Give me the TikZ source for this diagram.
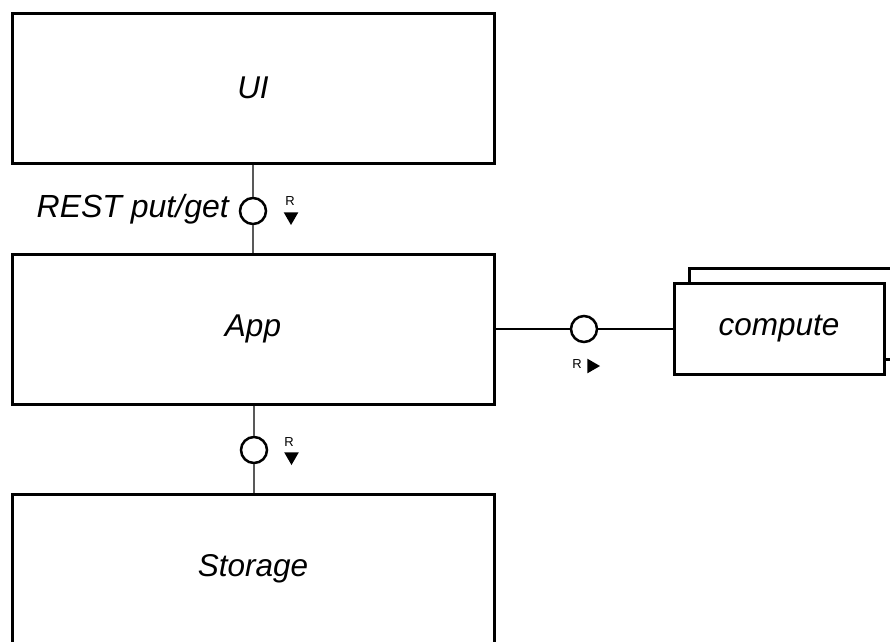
\documentclass[tikz,border=0pt]{standalone}
\usepackage{fontspec}
\setmainfont{Liberation Sans}
\usetikzlibrary{shapes.geometric}
\begin{document}
\begin{tikzpicture}[x=1pt,y=-1pt,
  box/.style={draw=black, line width=3pt, fill=white, minimum width=482pt, minimum height=150pt, inner sep=0pt,
    font=\fontsize{31.5}{36}\selectfont\itshape},
  cbox/.style={draw=black, line width=3pt, fill=white, minimum width=210pt, minimum height=91pt, inner sep=0pt,
    font=\fontsize{31.5}{36}\selectfont\itshape},
  iface/.style={circle, draw=black, line width=2.5pt, fill=white, minimum size=26pt, inner sep=0pt},
  vconn/.style={draw=black!65, line width=2pt},
  hconn/.style={draw=black, line width=1.8pt},
  rlbl/.style={font=\fontsize{13}{14}\selectfont, inner sep=0pt},
  tri/.style={regular polygon, regular polygon sides=3, fill=black, minimum size=17pt, inner sep=0pt},
  lbl/.style={font=\fontsize{32}{36}\selectfont\itshape, inner sep=0pt}
]
\useasboundingbox (0,0) rectangle (890,641);
\clip (0,0) rectangle (890,641);
\fill[white] (0,0) rectangle (890,641);

% boxes
\node[box] (ui) at (253,88) {UI};
\node[box] (app) at (253,329) {App};
\node[box] (storage) at (253,569) {Storage};

% compute stack
\node[cbox] (computeback) at (794,314) {};
\node[cbox] (compute) at (779,329) {compute};

% interfaces
\node[iface] (i1) at (253,211) {};
\node[iface] (i3) at (254,450) {};
\node[iface] (i2) at (584,329) {};

% connectors
\path[vconn] (ui.south) -- (i1.north);
\path[vconn] (i1.south) -- (app.north);
\path[vconn] (app.south -| i3) -- (i3.north);
\path[vconn] (i3.south) -- (storage.north -| i3);
\path[hconn] (app.east) -- (i2.west);
\path[hconn] (i2.east) -- (compute.west);

% labels
\node[lbl, anchor=east] (rest) at (229,209) {REST put/get};

\node[rlbl] (r1) at (290,201) {R};
\node[tri, shape border rotate=180] (t1) at (291,216.5) {};
\node[rlbl] (r3) at (289,442) {R};
\node[tri, shape border rotate=180] (t3) at (291.5,456.5) {};
\node[rlbl] (r2) at (577,364) {R};
\node[tri, shape border rotate=-90] (t2) at (591.5,366) {};
\end{tikzpicture}
\end{document}
